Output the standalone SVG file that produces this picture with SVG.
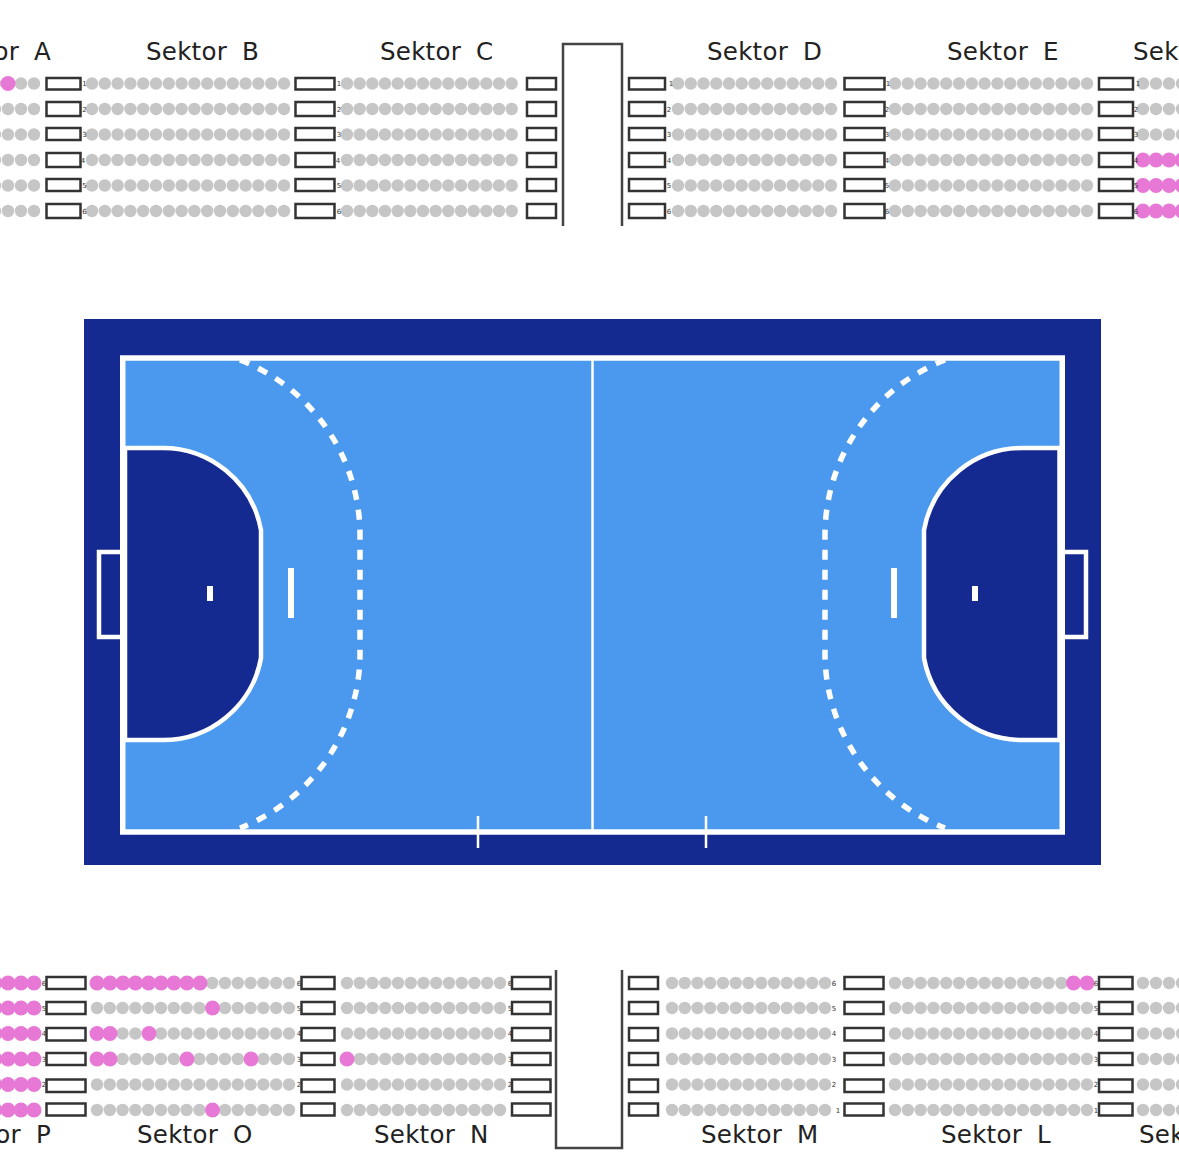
<svg xmlns="http://www.w3.org/2000/svg" width="1179" height="1168" viewBox="0 0 1179 1168">
<style>
.lbl{font-family:"DejaVu Sans",sans-serif;font-size:24.5px;fill:#222;word-spacing:7px;letter-spacing:.25px}
.num{font-family:"DejaVu Sans",sans-serif;font-size:7px;fill:#333;text-anchor:middle}
.box{fill:#fff;stroke:#333;stroke-width:2.5}
.tun{fill:none;stroke:#444;stroke-width:2.5}
.s{fill:#c6c6c6}
.p{fill:#e878d6}
.w{fill:none;stroke:#fff}
.wf{fill:#fff}
</style>
<defs>
<g id="r16" class="s"><circle cx="0" r="6.2"/><circle cx="12.8" r="6.2"/><circle cx="25.6" r="6.2"/><circle cx="38.4" r="6.2"/><circle cx="51.2" r="6.2"/><circle cx="64" r="6.2"/><circle cx="76.8" r="6.2"/><circle cx="89.6" r="6.2"/><circle cx="102.4" r="6.2"/><circle cx="115.2" r="6.2"/><circle cx="128" r="6.2"/><circle cx="140.8" r="6.2"/><circle cx="153.6" r="6.2"/><circle cx="166.4" r="6.2"/><circle cx="179.2" r="6.2"/><circle cx="192" r="6.2"/></g>
<g id="r14" class="s"><circle cx="0" r="6.2"/><circle cx="12.67" r="6.2"/><circle cx="25.33" r="6.2"/><circle cx="38" r="6.2"/><circle cx="50.67" r="6.2"/><circle cx="63.33" r="6.2"/><circle cx="76" r="6.2"/><circle cx="88.67" r="6.2"/><circle cx="101.33" r="6.2"/><circle cx="114" r="6.2"/><circle cx="126.67" r="6.2"/><circle cx="139.33" r="6.2"/><circle cx="152" r="6.2"/><circle cx="164.67" r="6.2"/></g>
<g id="r13" class="s"><circle cx="0" r="6.2"/><circle cx="12.75" r="6.2"/><circle cx="25.5" r="6.2"/><circle cx="38.25" r="6.2"/><circle cx="51" r="6.2"/><circle cx="63.75" r="6.2"/><circle cx="76.5" r="6.2"/><circle cx="89.25" r="6.2"/><circle cx="102" r="6.2"/><circle cx="114.75" r="6.2"/><circle cx="127.5" r="6.2"/><circle cx="140.25" r="6.2"/><circle cx="153" r="6.2"/></g>
<g id="r4" class="s"><circle cx="0" r="6.2"/><circle cx="13" r="6.2"/><circle cx="26" r="6.2"/><circle cx="39" r="6.2"/></g>
<g id="p4" class="p"><circle cx="0" r="7.5"/><circle cx="13" r="7.5"/><circle cx="26" r="7.5"/><circle cx="39" r="7.5"/></g>
<g id="t16"><use href="#r16" y="83.5"/><use href="#r16" y="109"/><use href="#r16" y="134.5"/><use href="#r16" y="160"/><use href="#r16" y="185.5"/><use href="#r16" y="211"/></g>
<g id="t14"><use href="#r14" y="83.5"/><use href="#r14" y="109"/><use href="#r14" y="134.5"/><use href="#r14" y="160"/><use href="#r14" y="185.5"/><use href="#r14" y="211"/></g>
<g id="t13"><use href="#r13" y="83.5"/><use href="#r13" y="109"/><use href="#r13" y="134.5"/><use href="#r13" y="160"/><use href="#r13" y="185.5"/><use href="#r13" y="211"/></g>
<g id="b16"><use href="#r16" y="983"/><use href="#r16" y="1008"/><use href="#r16" y="1033.5"/><use href="#r16" y="1059"/><use href="#r16" y="1084.5"/><use href="#r16" y="1110"/></g>
<g id="b13"><use href="#r13" y="983"/><use href="#r13" y="1008"/><use href="#r13" y="1033.5"/><use href="#r13" y="1059"/><use href="#r13" y="1084.5"/><use href="#r13" y="1110"/></g>
</defs>

<rect width="1179" height="1168" fill="#fff"/>

<g id="court">
<rect x="84" y="319" width="1017" height="546" fill="#152a91"/>
<rect x="122.5" y="358" width="939.5" height="474" fill="#4a99ee"/>
<path d="M125 448H160A100 100 0 0 1 261 530V658A100 100 0 0 1 160 740H125Z" fill="#152a91" stroke="#fff" stroke-width="4.5"/>
<path d="M1059.5 448H1024.500A100 100 0 0 0 924 530V658A100 100 0 0 0 1024.500 740H1059.500Z" fill="#152a91" stroke="#fff" stroke-width="4.5"/>
<path class="w" stroke-width="5.500" stroke-dasharray="10 10" d="M240 360A188 188 0 0 1 360 537V657A188 188 0 0 1 240 828"/>
<path class="w" stroke-width="5.500" stroke-dasharray="10 10" d="M945 360A188 188 0 0 0 825 537V657A188 188 0 0 0 945 828"/>
<rect class="w" stroke-width="5.500" x="122.750" y="358" width="939.500" height="474"/>
<path class="w" stroke-width="2.500" d="M592.500 358V832M478 816V848M706 816V848"/>
<path class="w" stroke-width="4.500" d="M122 552H99V637H122M1062 552H1086V637H1062"/>
<rect class="wf" x="288" y="568" width="6" height="50"/>
<rect class="wf" x="891" y="568" width="6" height="50"/>
<rect class="wf" x="207" y="586" width="6" height="15"/>
<rect class="wf" x="972" y="586" width="6" height="15"/>
</g>

<g id="tunnels">
<path class="tun" d="M563 226V44H622V226"/>
<path class="tun" d="M556 970V1148H622V970"/>
</g>

<g id="sektor-a">
<use href="#r4" x="-5" y="83.500"/><use href="#r4" x="-5" y="109"/><use href="#r4" x="-5" y="134.500"/><use href="#r4" x="-5" y="160"/><use href="#r4" x="-5" y="185.500"/><use href="#r4" x="-5" y="211"/>
<circle class="p" cx="8" cy="83.500" r="7.500"/>
<text class="lbl" x="51" y="60" text-anchor="end">Sektor A</text>
</g>
<g id="sektor-b"><use href="#t16" x="92"/><text class="lbl" x="146" y="60">Sektor B</text></g>
<g id="sektor-c"><use href="#t14" x="347"/><text class="lbl" x="380" y="60">Sektor C</text></g>
<g id="sektor-d"><use href="#t13" x="678"/><text class="lbl" x="707" y="60">Sektor D</text></g>
<g id="sektor-e"><use href="#t16" x="895"/><text class="lbl" x="947" y="60">Sektor E</text></g>
<g id="sektor-f">
<use href="#r4" x="1143" y="83.500"/><use href="#r4" x="1143" y="109"/><use href="#r4" x="1143" y="134.500"/>
<use href="#p4" x="1143" y="160"/><use href="#p4" x="1143" y="185.500"/><use href="#p4" x="1143" y="211"/>
<text class="lbl" x="1133" y="60">Sektor F</text>
</g>

<g id="sektor-p">
<use href="#p4" x="-5" y="983"/><use href="#p4" x="-5" y="1008"/><use href="#p4" x="-5" y="1033.500"/><use href="#p4" x="-5" y="1059"/><use href="#p4" x="-5" y="1084.500"/><use href="#p4" x="-5" y="1110"/>
<text class="lbl" x="51" y="1143" text-anchor="end">Sektor P</text>
</g>
<g id="sektor-o">
<use href="#b16" x="97"/>
<g class="p">
<circle cx="97" cy="983" r="7.500"/><circle cx="110" cy="983" r="7.500"/><circle cx="123" cy="983" r="7.500"/><circle cx="135.500" cy="983" r="7.500"/><circle cx="148.500" cy="983" r="7.500"/><circle cx="161" cy="983" r="7.500"/><circle cx="174" cy="983" r="7.500"/><circle cx="187" cy="983" r="7.500"/><circle cx="200" cy="983" r="7.500"/>
<circle cx="212.500" cy="1008" r="7.500"/>
<circle cx="97" cy="1033.500" r="7.500"/><circle cx="110" cy="1033.500" r="7.500"/><circle cx="149" cy="1033.500" r="7.500"/>
<circle cx="97" cy="1059" r="7.500"/><circle cx="110" cy="1059" r="7.500"/><circle cx="187" cy="1059" r="7.500"/><circle cx="251" cy="1059" r="7.500"/>
<circle cx="212.500" cy="1110" r="7.500"/>
</g>
<text class="lbl" x="137" y="1143">Sektor O</text>
</g>
<g id="sektor-n"><use href="#b13" x="347"/><circle class="p" cx="347" cy="1059" r="7.500"/><text class="lbl" x="374" y="1143">Sektor N</text></g>
<g id="sektor-m"><use href="#b13" x="672"/><text class="lbl" x="701" y="1143">Sektor M</text></g>
<g id="sektor-l"><use href="#b16" x="895"/><circle class="p" cx="1073.500" cy="983" r="7.500"/><circle class="p" cx="1087" cy="983" r="7.500"/><text class="lbl" x="941" y="1143">Sektor L</text></g>
<g id="sektor-k">
<use href="#r4" x="1143" y="983"/><use href="#r4" x="1143" y="1008"/><use href="#r4" x="1143" y="1033.500"/><use href="#r4" x="1143" y="1059"/><use href="#r4" x="1143" y="1084.500"/><use href="#r4" x="1143" y="1110"/>
<text class="lbl" x="1139" y="1143">Sektor K</text>
</g>

<g id="row-numbers">
<text class="num" x="84.500" y="86">1</text><text class="num" x="84.500" y="112">2</text><text class="num" x="84.500" y="137">3</text><text class="num" x="83" y="163">4</text><text class="num" x="84.500" y="188">5</text><text class="num" x="84.500" y="214">6</text>
<text class="num" x="339" y="86">1</text><text class="num" x="339" y="112">2</text><text class="num" x="339" y="137">3</text><text class="num" x="338" y="163">4</text><text class="num" x="339" y="188">5</text><text class="num" x="339" y="214">6</text>
<text class="num" x="671" y="86">1</text><text class="num" x="669" y="112">2</text><text class="num" x="669" y="137">3</text><text class="num" x="669" y="163">4</text><text class="num" x="669" y="188">5</text><text class="num" x="669" y="214">6</text>
<text class="num" x="888" y="86">1</text><text class="num" x="887" y="112">2</text><text class="num" x="887" y="137">3</text><text class="num" x="887" y="163">4</text><text class="num" x="887" y="188">5</text><text class="num" x="887" y="214">6</text>
<text class="num" x="1138" y="86">1</text><text class="num" x="1136" y="112">2</text><text class="num" x="1136" y="137">3</text><text class="num" x="1136" y="163">4</text><text class="num" x="1136" y="188">5</text><text class="num" x="1136" y="214">6</text>
<text class="num" x="44" y="986">6</text><text class="num" x="44" y="1011">5</text><text class="num" x="44" y="1036">4</text><text class="num" x="44" y="1062">3</text><text class="num" x="44" y="1087">2</text>
<text class="num" x="299" y="986">6</text><text class="num" x="299" y="1011">5</text><text class="num" x="299" y="1036">4</text><text class="num" x="299" y="1062">3</text><text class="num" x="299" y="1087">2</text>
<text class="num" x="510" y="986">6</text><text class="num" x="510" y="1011">5</text><text class="num" x="510" y="1036">4</text><text class="num" x="510" y="1062">3</text><text class="num" x="510" y="1087">2</text>
<text class="num" x="834" y="986">6</text><text class="num" x="834" y="1011">5</text><text class="num" x="834" y="1036">4</text><text class="num" x="834" y="1062">3</text><text class="num" x="834" y="1087">2</text><text class="num" x="838" y="1113">1</text>
<text class="num" x="1096" y="986">6</text><text class="num" x="1096" y="1011">5</text><text class="num" x="1096" y="1036">4</text><text class="num" x="1096" y="1062">3</text><text class="num" x="1096" y="1087">2</text><text class="num" x="1096" y="1113">1</text>
</g>

<g id="entrances-top">
<path class="box" d="M46.500 78h34v11.500h-34zM46.500 102h34v14h-34zM46.500 128h34v12h-34zM46.500 153h34v14h-34zM46.500 179h34v12h-34zM46.500 204h34v14h-34z"/>
<path class="box" d="M295.500 78h39v11.500h-39zM295.500 102h39v14h-39zM295.500 128h39v12h-39zM295.500 153h39v14h-39zM295.500 179h39v12h-39zM295.500 204h39v14h-39z"/>
<path class="box" d="M527 78h29v11.500h-29zM527 102h29v14h-29zM527 128h29v12h-29zM527 153h29v14h-29zM527 179h29v12h-29zM527 204h29v14h-29z"/>
<path class="box" d="M629 78h36v11.500h-36zM629 102h36v14h-36zM629 128h36v12h-36zM629 153h36v14h-36zM629 179h36v12h-36zM629 204h36v14h-36z"/>
<path class="box" d="M844.500 78h40v11.500h-40zM844.500 102h40v14h-40zM844.500 128h40v12h-40zM844.500 153h40v14h-40zM844.500 179h40v12h-40zM844.500 204h40v14h-40z"/>
<path class="box" d="M1099 78h34v11.500h-34zM1099 102h34v14h-34zM1099 128h34v12h-34zM1099 153h34v14h-34zM1099 179h34v12h-34zM1099 204h34v14h-34z"/>
</g>
<g id="entrances-bottom">
<path class="box" d="M46.500 977h39v12h-39zM46.500 1002h39v12h-39zM46.500 1028h39v12.500h-39zM46.500 1053h39v12h-39zM46.500 1079.500h39v12.500h-39zM46.500 1103.500h39v12h-39z"/>
<path class="box" d="M301.500 977h33v12h-33zM301.500 1002h33v12h-33zM301.500 1028h33v12.500h-33zM301.500 1053h33v12h-33zM301.500 1079.500h33v12.500h-33zM301.500 1103.500h33v12h-33z"/>
<path class="box" d="M512 977h38.500v12h-38.500zM512 1002h38.500v12h-38.500zM512 1028h38.500v12.500h-38.500zM512 1053h38.500v12h-38.500zM512 1079.500h38.500v12.500h-38.500zM512 1103.500h38.500v12h-38.500z"/>
<path class="box" d="M629 977h29v12h-29zM629 1002h29v12h-29zM629 1028h29v12.500h-29zM629 1053h29v12h-29zM629 1079.500h29v12.500h-29zM629 1103.500h29v12h-29z"/>
<path class="box" d="M844.500 977h39v12h-39zM844.500 1002h39v12h-39zM844.500 1028h39v12.500h-39zM844.500 1053h39v12h-39zM844.500 1079.500h39v12.500h-39zM844.500 1103.500h39v12h-39z"/>
<path class="box" d="M1099 977h33.500v12h-33.500zM1099 1002h33.500v12h-33.500zM1099 1028h33.500v12.500h-33.500zM1099 1053h33.500v12h-33.500zM1099 1079.500h33.500v12.500h-33.500zM1099 1103.500h33.500v12h-33.500z"/>
</g>
</svg>
